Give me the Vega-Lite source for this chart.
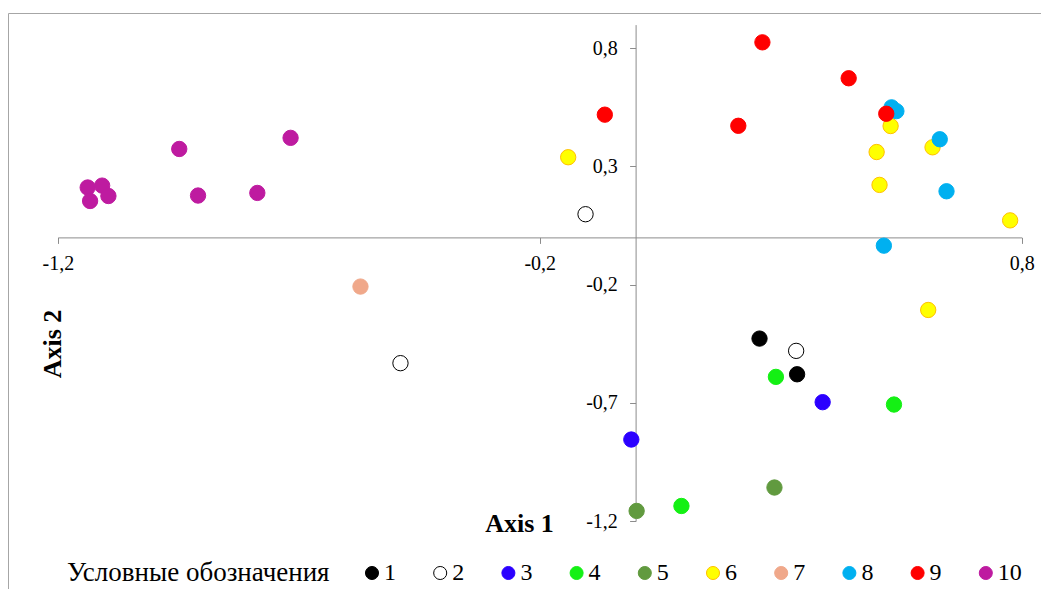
{
  "$schema": "https://vega.github.io/schema/vega-lite/v6.json",
  "autosize": "none",
  "padding": {"left": 8, "top": 13, "right": 0, "bottom": 0},
  "width": 1040,
  "height": 580,
  "background": "#FFFFFF",
  "config": {
    "locale": {"number": {"decimal": ",", "thousands": " ", "grouping": [3], "currency": ["", ""], "minus": "-"}},
    "view": {"stroke": "#A6A6A6", "strokeWidth": 1},
    "font": "Liberation Serif"
  },
  "data": {
    "values": [
      {"group": "1", "x": 0.256, "y": -0.428},
      {"group": "1", "x": 0.334, "y": -0.579},
      {"group": "2", "x": -0.105, "y": 0.098},
      {"group": "2", "x": 0.332, "y": -0.480},
      {"group": "2", "x": -0.489, "y": -0.532},
      {"group": "3", "x": 0.387, "y": -0.697},
      {"group": "3", "x": -0.010, "y": -0.855},
      {"group": "4", "x": 0.290, "y": -0.590},
      {"group": "4", "x": 0.535, "y": -0.707},
      {"group": "4", "x": 0.094, "y": -1.136},
      {"group": "5", "x": 0.287, "y": -1.058},
      {"group": "5", "x": 0.001, "y": -1.157},
      {"group": "6", "x": -0.141, "y": 0.339},
      {"group": "6", "x": 0.528, "y": 0.471},
      {"group": "6", "x": 0.499, "y": 0.361},
      {"group": "6", "x": 0.615, "y": 0.381},
      {"group": "6", "x": 0.505, "y": 0.222},
      {"group": "6", "x": 0.776, "y": 0.072},
      {"group": "6", "x": 0.606, "y": -0.307},
      {"group": "7", "x": -0.572, "y": -0.208},
      {"group": "8", "x": 0.530, "y": 0.550},
      {"group": "8", "x": 0.540, "y": 0.534},
      {"group": "8", "x": 0.630, "y": 0.415},
      {"group": "8", "x": 0.644, "y": 0.195},
      {"group": "8", "x": 0.514, "y": -0.035},
      {"group": "9", "x": 0.262, "y": 0.825},
      {"group": "9", "x": 0.441, "y": 0.673},
      {"group": "9", "x": -0.065, "y": 0.519},
      {"group": "9", "x": 0.212, "y": 0.472},
      {"group": "9", "x": 0.519, "y": 0.523},
      {"group": "10", "x": -1.138, "y": 0.211},
      {"group": "10", "x": -1.108, "y": 0.219},
      {"group": "10", "x": -1.133, "y": 0.154},
      {"group": "10", "x": -1.095, "y": 0.175},
      {"group": "10", "x": -0.948, "y": 0.374},
      {"group": "10", "x": -0.909, "y": 0.177},
      {"group": "10", "x": -0.786, "y": 0.188},
      {"group": "10", "x": -0.717, "y": 0.421}
    ]
  },
  "mark": {"type": "circle", "size": 235, "opacity": 1, "strokeWidth": 1},
  "encoding": {
    "x": {
      "field": "x", "type": "quantitative",
      "scale": {"domain": [-1.2, 0.8], "range": [49.8, 1013.7], "nice": false, "zero": false},
      "axis": {
        "title": "Axis 1",
        "orient": "bottom",
        "offset": -355.6,
        "values": [-1.2, -0.2, 0.8],
        "format": ".1f",
        "grid": false,
        "domainColor": "#8C8C8C",
        "tickColor": "#8C8C8C",
        "tickSize": 6,
        "labelFont": "Liberation Serif",
        "labelFontSize": 20,
        "labelColor": "#000000",
        "labelBaseline": "alphabetic",
        "labelPadding": 25.6,
        "labelFlush": false,
        "labelOverlap": false,
        "titleFont": "Liberation Serif",
        "titleFontSize": 26,
        "titleFontWeight": "bold",
        "titleColor": "#000000",
        "titleX": 511,
        "titleY": 294.3,
        "titleAlign": "center",
        "titleBaseline": "alphabetic"
      }
    },
    "y": {
      "field": "y", "type": "quantitative",
      "scale": {"domain": [-1.2, 0.9], "range": [508.1, 11.6], "nice": false, "zero": false},
      "axis": {
        "title": "Axis 2",
        "orient": "left",
        "offset": -627.6,
        "values": [-1.2, -0.7, -0.2, 0.3, 0.8],
        "format": ".1f",
        "grid": false,
        "domainColor": "#8C8C8C",
        "tickColor": "#8C8C8C",
        "tickSize": 6,
        "labelFont": "Liberation Serif",
        "labelFontSize": 20,
        "labelColor": "#000000",
        "labelPadding": 12.3,
        "labelFlush": false,
        "labelOverlap": false,
        "titleFont": "Liberation Serif",
        "titleFontSize": 26,
        "titleFontWeight": "bold",
        "titleColor": "#000000",
        "titleAngle": 270,
        "titleX": -575.6,
        "titleY": 330.5,
        "titleAlign": "center",
        "titleBaseline": "alphabetic"
      }
    },
    "fill": {
      "field": "group", "type": "nominal",
      "scale": {
        "domain": ["1", "2", "3", "4", "5", "6", "7", "8", "9", "10"],
        "range": ["#000000", "#FFFFFF", "#2B00FF", "#14F014", "#619A3F", "#FFFF00", "#F0A88A", "#00B0F0", "#FF0000", "#BE1BA0"]
      },
      "legend": {
        "title": "Условные обозначения",
        "orient": "none",
        "legendX": 59,
        "legendY": 548,
        "direction": "horizontal",
        "columns": 10,
        "titleOrient": "left",
        "titleFont": "Liberation Serif",
        "titleFontSize": 27,
        "titleFontWeight": "normal",
        "titleColor": "#000000",
        "titleLimit": 500,
        "titlePadding": 30,
        "titleBaseline": "middle",
        "labelFont": "Liberation Serif",
        "labelFontSize": 24,
        "labelColor": "#000000",
        "labelOffset": 0,
        "columnPadding": 32.2,
        "symbolType": "circle",
        "symbolSize": 170,
        "symbolStrokeWidth": 1,
        "symbolOpacity": 1,
        "padding": 0
      }
    },
    "stroke": {
      "field": "group", "type": "nominal",
      "scale": {
        "domain": ["1", "2", "3", "4", "5", "6", "7", "8", "9", "10"],
        "range": ["#000000", "#000000", "#2B00FF", "#14F014", "#619A3F", "#FFC000", "#F0A88A", "#00B0F0", "#FF0000", "#BE1BA0"]
      },
      "legend": {
        "title": "Условные обозначения",
        "orient": "none",
        "legendX": 59,
        "legendY": 548,
        "direction": "horizontal",
        "columns": 10,
        "titleOrient": "left",
        "titleFont": "Liberation Serif",
        "titleFontSize": 27,
        "titleFontWeight": "normal",
        "titleColor": "#000000",
        "titleLimit": 500,
        "titlePadding": 30,
        "titleBaseline": "middle",
        "labelFont": "Liberation Serif",
        "labelFontSize": 24,
        "labelColor": "#000000",
        "labelOffset": 0,
        "columnPadding": 32.2,
        "symbolType": "circle",
        "symbolSize": 170,
        "symbolStrokeWidth": 1,
        "symbolOpacity": 1,
        "padding": 0
      }
    }
  }
}
